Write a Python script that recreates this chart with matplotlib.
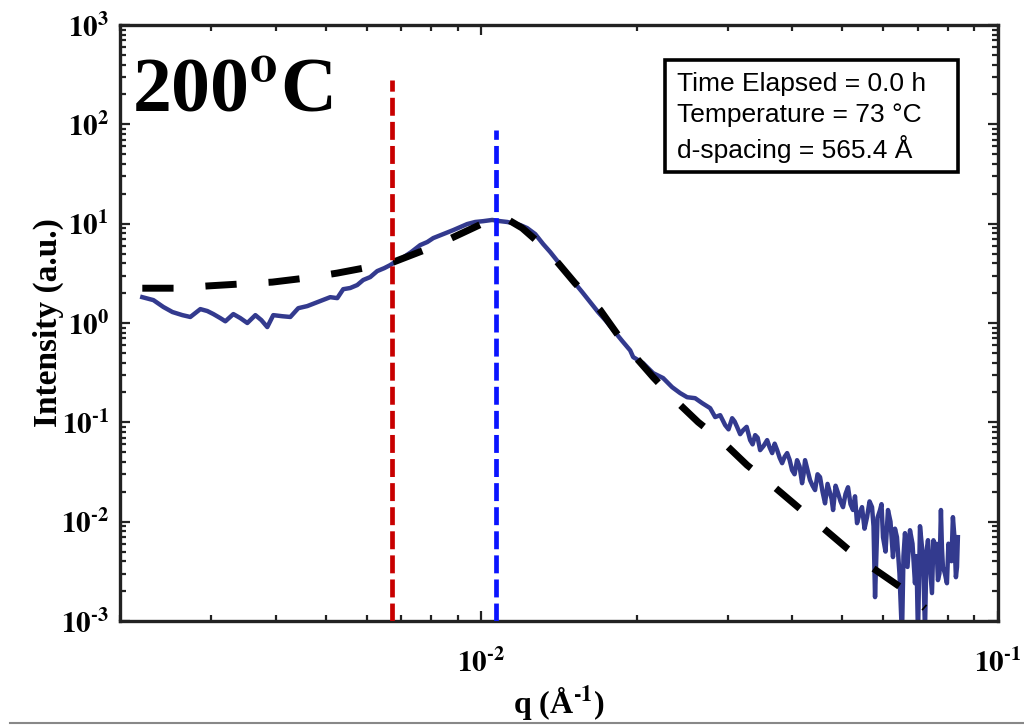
import numpy as np
import matplotlib
matplotlib.use('Agg')
import matplotlib.pyplot as plt
from matplotlib.ticker import LogLocator, NullFormatter
from matplotlib.patches import Rectangle
from matplotlib.lines import Line2D

# measured SAXS intensity (blue trace)
q_data = [0.002209, 0.002321, 0.002426, 0.002526, 0.002641, 0.002736, 0.002861, 0.002951,
          0.003032, 0.003127, 0.003198, 0.003314, 0.003419, 0.003527, 0.003656, 0.003754,
          0.003855, 0.003959, 0.004121, 0.004272, 0.004426, 0.004607, 0.004818, 0.004992,
          0.005103, 0.005266, 0.005407, 0.005578, 0.005755, 0.005911, 0.006099, 0.006291,
          0.006494, 0.006668, 0.006848, 0.007034, 0.007322, 0.007621, 0.007863, 0.008076,
          0.008444, 0.008831, 0.009107, 0.009395, 0.009736, 0.01009, 0.01050, 0.01088,
          0.01123, 0.01153, 0.01190, 0.01227, 0.01272, 0.01318, 0.01360, 0.01409,
          0.01460, 0.01512, 0.01568, 0.01625, 0.01683, 0.01744, 0.01808, 0.01874,
          0.01942, 0.01968, 0.02057, 0.02151, 0.02249, 0.02341, 0.02426, 0.02503,
          0.02594, 0.02677, 0.02773, 0.02836, 0.02900,
          0.02965, 0.03010, 0.03059, 0.03093, 0.03128, 0.03170, 0.03213, 0.03263, 0.03314, 0.03351,
          0.03389, 0.03427, 0.03465, 0.03520, 0.03575, 0.03615, 0.03656, 0.03697, 0.03738, 0.03780,
          0.03822, 0.03865, 0.03908, 0.03951, 0.03995, 0.04040, 0.04085, 0.04131, 0.04177, 0.04205,
          0.04233, 0.04280, 0.04328, 0.04377, 0.04426, 0.04475, 0.04525, 0.04576, 0.04627, 0.04679,
          0.04732, 0.04764, 0.04796, 0.04850, 0.04903, 0.04958, 0.05013, 0.05069, 0.05126, 0.05183,
          0.05241, 0.05288, 0.05336, 0.05396, 0.05456, 0.05517, 0.05579, 0.05642, 0.05705, 0.05743,
          0.05782, 0.05847, 0.05912, 0.05951, 0.05991, 0.06058, 0.06125, 0.06194, 0.06263, 0.06319,
          0.06375, 0.06447, 0.06519, 0.06563, 0.06607, 0.06681, 0.06756, 0.06832, 0.06908, 0.06954,
          0.07001, 0.07064, 0.07127, 0.07175, 0.07223, 0.07271, 0.07320, 0.07385, 0.07451, 0.07501,
          0.07551, 0.07601, 0.07652, 0.07703, 0.07755, 0.07789, 0.07824, 0.07894, 0.07965, 0.08018,
          0.08072, 0.08126, 0.08180, 0.08235, 0.08290, 0.08330, 0.08363]
I_data = [1.82, 1.70, 1.45, 1.29, 1.20, 1.15, 1.38, 1.32,
          1.23, 1.12, 1.04, 1.23, 1.12, 1.00, 1.20, 1.07,
          0.91, 1.20, 1.17, 1.15, 1.41, 1.48, 1.62, 1.74,
          1.82, 1.78, 2.19, 2.25, 2.41, 2.71, 2.90, 3.33,
          3.57, 3.83, 4.20, 4.50, 5.18, 6.09, 6.53, 7.16,
          7.86, 8.62, 9.24, 9.91, 10.4, 10.6, 10.9, 10.6,
          10.4, 10.1, 9.68, 9.03, 7.86, 6.23, 5.18, 4.11,
          3.26, 2.58, 2.05, 1.62, 1.29, 1.05, 0.83, 0.66,
          0.53, 0.454, 0.394, 0.313, 0.279, 0.226, 0.197, 0.179,
          0.175, 0.156, 0.139, 0.113, 0.118,
          0.0938, 0.0850, 0.110, 0.1020, 0.0895, 0.0760, 0.0834, 0.0900, 0.0662, 0.0600,
          0.0743, 0.0700, 0.0525, 0.0580, 0.0662, 0.0560, 0.0490, 0.0610, 0.0525, 0.0440,
          0.0388, 0.0450, 0.0490, 0.0420, 0.0330, 0.0300, 0.0416, 0.0360, 0.0244, 0.0300,
          0.0416, 0.0330, 0.0262, 0.0230, 0.0208, 0.0300, 0.0281, 0.0200, 0.0153, 0.0240,
          0.0194, 0.0170, 0.0131, 0.0230, 0.0194, 0.0160, 0.0140, 0.0190, 0.0222, 0.0150,
          0.0131, 0.0180, 0.00966, 0.0120, 0.0140, 0.0085, 0.0111, 0.0160, 0.0140, 0.0090,
          0.00174, 0.0110, 0.0131, 0.0150, 0.00698, 0.0050, 0.0131, 0.0100, 0.00440, 0.0085,
          0.00698, 0.0030, 0.0007, 0.0045, 0.00766, 0.0035, 0.00820, 0.0060, 0.00240, 0.0045,
          0.0007, 0.0090, 0.00553, 0.0030, 0.0008, 0.0050, 0.00651, 0.0035, 0.00191, 0.0065,
          0.00440, 0.0060, 0.00258, 0.0030, 0.0131, 0.0055, 0.00348, 0.0030, 0.00240, 0.0060,
          0.00482, 0.0040, 0.0111, 0.0070, 0.00276, 0.0035, 0.00698]

# model fit (black dashed)
q_fit = [0.002209, 0.002558, 0.002951, 0.003419, 0.003942, 0.004566, 0.005266, 0.006074,
         0.006759, 0.008036, 0.009188, 0.01041, 0.01113, 0.01200, 0.01342, 0.01519,
         0.01699, 0.01899, 0.02151, 0.02351, 0.02629, 0.02938, 0.03269, 0.03656,
         0.04103, 0.04566, 0.05126, 0.05730, 0.06519, 0.07223]
I_fit = [2.24, 2.24, 2.36, 2.47, 2.58, 2.83, 3.18, 3.66,
         4.10, 5.81, 8.04, 10.9, 11.4, 9.04, 5.42, 2.52,
         1.35, 0.598, 0.285, 0.175, 0.1005, 0.0632, 0.0371, 0.0233,
         0.0140, 0.00881, 0.00528, 0.00340, 0.00214, 0.00135]

q_red, top_red = 0.006729, 279
q_blue, top_blue = 0.01068, 88
xtick_vals = [1e-2, 1e-1]
xtick_labels = ['$10^{\\text{-}2}$', '$10^{\\text{-}1}$']
ytick_vals = [1e-3, 1e-2, 1e-1, 1e0, 1e1, 1e2, 1e3]
ytick_labels = ['$10^{\\text{-}3}$', '$10^{\\text{-}2}$', '$10^{\\text{-}1}$', '$10^{0}$',
                '$10^{1}$', '$10^{2}$', '$10^{3}$']
info = 'Time Elapsed = 0.0 h\nTemperature = 73 \u00b0C\nd-spacing = 565.4 \u00c5'

plt.rcParams['font.family'] = 'Liberation Serif'
plt.rcParams['font.weight'] = 'bold'
plt.rcParams['mathtext.fontset'] = 'stix'
plt.rcParams['mathtext.default'] = 'bf'

fig = plt.figure(figsize=(10.24, 7.26), dpi=100)
ax = fig.add_axes([120/1024, 1 - 621/726, 878/1024, 596/726])

ax.plot(q_data, I_data, color='#333a8e', lw=3.2, solid_joinstyle='round', zorder=2)
ax.plot(q_fit, I_fit, color='black', lw=5, linestyle=(0, (4.5, 4.6)), zorder=3)
ax.plot([q_red, q_red], [1e-3, top_red], color='#c80000', lw=3.4,
        linestyle=(0, (3.8, 1.3)), zorder=4)
ax.plot([q_blue, q_blue], [1e-3, top_blue], color='#0a14ff', lw=3.4,
        linestyle=(0, (3.8, 1.3)), zorder=4)

ax.set_xscale('log')
ax.set_yscale('log')
ax.set_xlim(0.002, 0.1)
ax.set_ylim(1e-3, 1e3)

for axis in (ax.xaxis, ax.yaxis):
    axis.set_major_locator(LogLocator(base=10, numticks=100))
    axis.set_minor_locator(LogLocator(base=10, subs=np.arange(2, 10), numticks=100))
    axis.set_minor_formatter(NullFormatter())
ax.set_xticks(xtick_vals)
ax.set_xticklabels(xtick_labels)
ax.set_yticks(ytick_vals)
ax.set_yticklabels(ytick_labels)

ax.tick_params(which='both', direction='in', top=True, right=True, width=1.6,
               labelsize=21, color='#222222')
ax.tick_params(which='major', length=7)
ax.tick_params(which='minor', length=4)
ax.tick_params(axis='x', which='major', pad=20)
ax.tick_params(axis='y', which='major', pad=8)
for sp in ax.spines.values():
    sp.set_linewidth(2.4)
    sp.set_color('#222222')

ax.set_xlabel('q (\u00c5$^{\\text{-}1}$)', fontsize=23, fontweight='bold', labelpad=4)
ax.set_ylabel('Intensity (a.u.)', fontsize=24, fontweight='bold', labelpad=-2)

ax.text(0.014, 0.855, '200$^{o}$C', transform=ax.transAxes, fontsize=56,
        fontweight='bold', ha='left', va='baseline')

ax.add_patch(Rectangle((0.6207, 0.7534), 0.3337, 0.1879, transform=ax.transAxes,
                       fill=True, facecolor='white', edgecolor='black', lw=2.6, zorder=5))
ax.text(0.6344, 0.845, info, transform=ax.transAxes, fontsize=19,
        family='Liberation Sans', fontweight='normal', ha='left', va='center',
        linespacing=1.35, zorder=6)

fig.add_artist(Line2D([10/1024, 1], [3/726, 3/726], color='#888888', lw=1.5))

fig.savefig('out.png', dpi=100, facecolor='white')
